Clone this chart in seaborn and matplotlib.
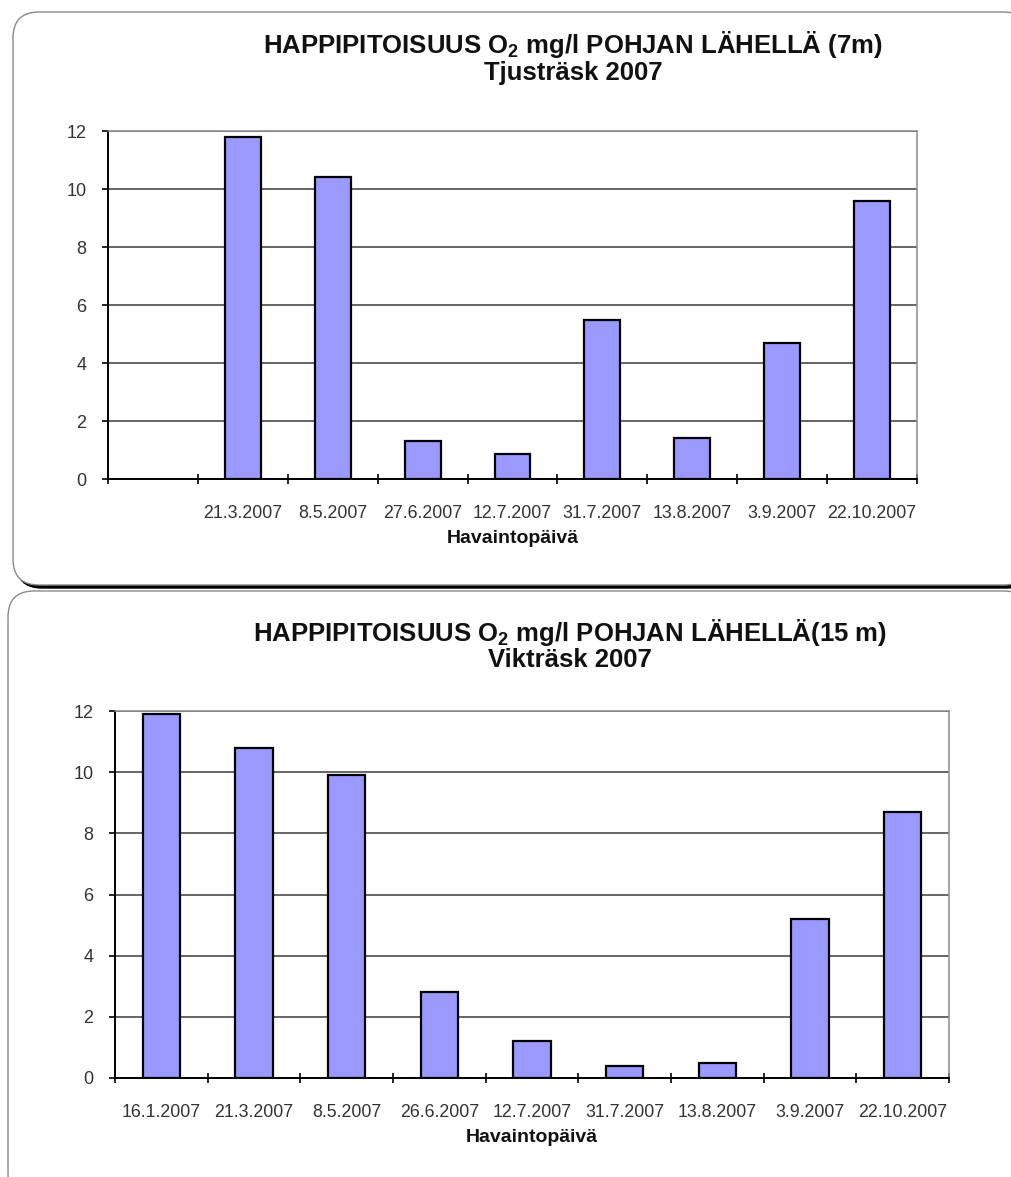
import matplotlib
matplotlib.use("Agg")
import matplotlib.pyplot as plt
import seaborn as sns
import numpy as np
import pandas as pd
from matplotlib.patches import FancyBboxPatch

# ---------------- data ----------------
top_dates = ["", "21.3.2007", "8.5.2007", "27.6.2007", "12.7.2007",
             "31.7.2007", "13.8.2007", "3.9.2007", "22.10.2007"]
top_values = [np.nan, 11.8, 10.4, 1.3, 0.87, 5.5, 1.4, 4.7, 9.6]

bottom_dates = ["16.1.2007", "21.3.2007", "8.5.2007", "26.6.2007", "12.7.2007",
                "31.7.2007", "13.8.2007", "3.9.2007", "22.10.2007"]
bottom_values = [11.9, 10.8, 9.9, 2.8, 1.2, 0.4, 0.5, 5.2, 8.7]

y_ticks = [0, 2, 4, 6, 8, 10, 12]

top_title = ["HAPPIPITOISUUS O$_2$ mg/l POHJAN LÄHELLÄ (7m)", "Tjusträsk 2007"]
bottom_title = ["HAPPIPITOISUUS O$_2$ mg/l POHJAN LÄHELLÄ(15 m)", "Vikträsk 2007"]
x_label = "Havaintopäivä"

# ---------------- style ----------------
sns.set_theme(style="white")
plt.rcParams["font.family"] = ["Liberation Sans", "DejaVu Sans"]
plt.rcParams["mathtext.default"] = "regular"

W, H = 1011, 1177
fig = plt.figure(figsize=(W / 100, H / 100), dpi=100)
fig.patch.set_facecolor("white")

# background panels (pixel coordinates)
bg = fig.add_axes([0, 0, 1, 1], zorder=-10)
bg.set_xlim(0, W)
bg.set_ylim(H, 0)
bg.axis("off")


def panel(x0, y0, x1, y1, shadow=True):
    if shadow:
        bg.add_patch(FancyBboxPatch((x0 + 3, y0 + 3), x1 - x0, y1 - y0,
                                    boxstyle="round,pad=0,rounding_size=26",
                                    facecolor="black", edgecolor="black", lw=1))
    bg.add_patch(FancyBboxPatch((x0, y0), x1 - x0, y1 - y0,
                                boxstyle="round,pad=0,rounding_size=26",
                                facecolor="white", edgecolor="#8a8a8a", lw=1))


panel(13, 12, 1030, 585)
panel(8, 591, 1030, 1200, shadow=False)

BAR = "#9999FF"
TXT = "#333333"


def draw_chart(rect, dates, values, title_lines, title_y, title_x):
    ax = fig.add_axes(rect)
    ax.set_facecolor("white")
    df = pd.DataFrame({"date": dates, "value": values})
    sns.barplot(data=df, x="date", y="value", order=dates, color=BAR,
                saturation=1, edgecolor="black", linewidth=1.6, width=0.4,
                errorbar=None, ax=ax, zorder=3)
    ax.set_xlim(-0.5, len(dates) - 0.5)
    ax.set_ylim(0, 12)
    ax.set_yticks(y_ticks)
    ax.set_yticklabels([str(v) for v in y_ticks])
    ax.set_xticks(range(len(dates)))
    ax.set_xticklabels(dates)
    ax.set_xticks(np.arange(-0.5, len(dates)), minor=True)
    ax.tick_params(axis="x", which="major", length=0, pad=18.5,
                   labelsize=12.8, labelcolor=TXT)
    ax.tick_params(axis="x", which="minor", length=7, width=1.2,
                   direction="inout", color="black", bottom=True)
    ax.tick_params(axis="y", which="major", length=4.5, width=1.2,
                   direction="out", color="black", left=True, pad=11,
                   labelsize=13, labelcolor=TXT)
    ax.yaxis.grid(True, color="#3c3c3c", lw=1.1)
    ax.xaxis.grid(False)
    ax.set_axisbelow(True)
    for s in ("left", "bottom"):
        ax.spines[s].set_color("black")
        ax.spines[s].set_linewidth(1.4)
    for s in ("top", "right"):
        ax.spines[s].set_color("#8c8c8c")
        ax.spines[s].set_linewidth(1.1)
        ax.spines[s].set_visible(True)
    ax.spines["bottom"].set_zorder(5)
    ax.set_xlabel(x_label, fontsize=14, fontweight="bold", color="#111111",
                  labelpad=6)
    ax.set_ylabel("")
    fig.text(title_x / W, 1 - title_y[0] / H, title_lines[0], ha="center",
             va="center", fontsize=18.5, fontweight="bold", color="#111111")
    fig.text(title_x / W, 1 - title_y[1] / H, title_lines[1], ha="center",
             va="center", fontsize=18.5, fontweight="bold", color="#111111")
    return ax


draw_chart([108 / W, 1 - 479 / H, 809 / W, 348 / H], top_dates, top_values,
           top_title, (45, 73), 573)
draw_chart([115 / W, 1 - 1078 / H, 834 / W, 367 / H], bottom_dates, bottom_values,
           bottom_title, (633, 660), 570)

fig.savefig("out.png", dpi=100, facecolor="white")
